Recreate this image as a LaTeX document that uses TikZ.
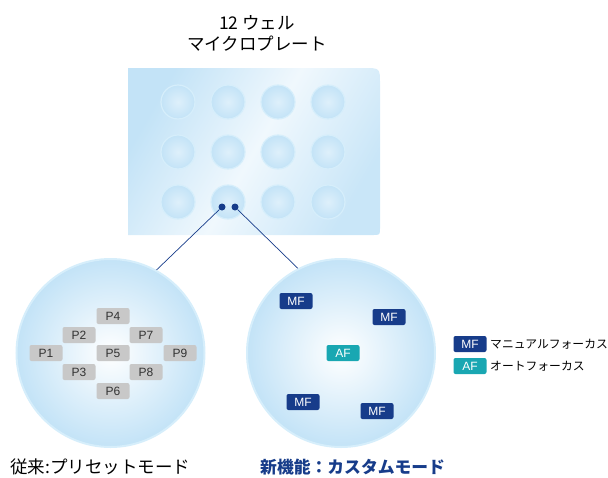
\documentclass[tikz,border=0pt]{standalone}
\usepackage{fontspec}
\setmainfont{Liberation Sans}
\newfontfamily\cjk{Noto Sans CJK JP}
\usetikzlibrary{shapes.misc}
\definecolor{navy}{HTML}{173C8A}
\definecolor{teal2}{HTML}{19A7B2}
\definecolor{pgray}{HTML}{C8C8C8}
\definecolor{pale}{HTML}{C3E3F7}
\definecolor{rim}{HTML}{D6EEFB}
\tikzset{
  pbox/.style={rectangle, rounded corners=2pt, fill=pgray, text=black!80, minimum width=33pt, minimum height=16pt, inner sep=0pt, font=\fontsize{12}{12}\selectfont},
  mfbox/.style={rectangle, rounded corners=2pt, fill=navy, text=white, minimum width=33pt, minimum height=16pt, inner sep=0pt, font=\fontsize{12}{12}\selectfont},
  afbox/.style={mfbox, fill=teal2},
  well/.style={circle, minimum size=34pt, inner sep=0pt, shading=radial, inner color=pale!55, outer color=pale, draw=rim, line width=1.2pt},
  bigc/.style={circle, minimum size=188pt, inner sep=0pt, shading=radial, inner color=white, outer color=pale, draw=rim, line width=2pt},
  dot/.style={circle, fill=navy, minimum size=7pt, inner sep=0pt},
  link/.style={draw=navy, line width=0.7pt},
  jtext/.style={font=\cjk\fontsize{11.8}{12}\selectfont, anchor=west, inner sep=0pt},
}
\begin{document}
\begin{tikzpicture}[x=1pt,y=-1pt]
\useasboundingbox (0,0) rectangle (608,477);
% title
\node[font=\cjk\fontsize{17.5}{21}\selectfont, align=center] (title) at (257,33) {12 ウェル\\マイクロプレート};
% plate
\shade[left color=pale, right color=pale!90, middle color=pale!25, shading angle=60]
  (128,68) -- (364,68) .. controls (380,68) .. (380,84) -- (380,228) .. controls (380,235) .. (373,235) -- (128,235) -- cycle;
% wells
\foreach \c [count=\i] in {178,228,278,328}{
  \foreach \r [count=\j] in {102,152,202}{
    \node[well] (w\i\j) at (\c,\r) {};
  }
}
\node[dot] (d1) at (222,207) {};
\node[dot] (d2) at (235,207) {};
% big circles
\node[bigc] (L) at (110.5,353) {};
\node[bigc] (R) at (341,353) {};
\path[link] (d1) -- (L.61);
\path[link] (d2) -- (R.117);
% preset boxes
\node[pbox] (p4) at (113,316) {P4};
\node[pbox] (p2) at (79,335) {P2};
\node[pbox] (p7) at (146,335) {P7};
\node[pbox] (p1) at (46,353) {P1};
\node[pbox] (p5) at (113,353) {P5};
\node[pbox] (p9) at (180,353) {P9};
\node[pbox] (p3) at (79,372) {P3};
\node[pbox] (p8) at (146,372) {P8};
\node[pbox] (p6) at (113,391) {P6};
% custom boxes
\node[mfbox] (m1) at (296,301) {MF};
\node[mfbox] (m2) at (389,317) {MF};
\node[afbox] (af) at (343,353) {AF};
\node[mfbox] (m3) at (303,402) {MF};
\node[mfbox] (m4) at (377,411) {MF};
% legend
\node[mfbox] (lm) at (470,344) {MF};
\node[jtext] (lmt) at (490,344) {マニュアルフォーカス};
\node[afbox] (la) at (470,366) {AF};
\node[jtext] (lat) at (490,366) {オートフォーカス};
% bottom labels
\node[font=\cjk\fontsize{17.5}{19}\selectfont, anchor=west, inner sep=0pt] (lab1) at (10,467) {従来:プリセットモード};
\node[font=\cjk\bfseries\fontsize{16.8}{19}\selectfont, text=navy, anchor=west, inner sep=0pt] (lab2) at (260,467) {新機能：カスタムモード};
\end{tikzpicture}
\end{document}
